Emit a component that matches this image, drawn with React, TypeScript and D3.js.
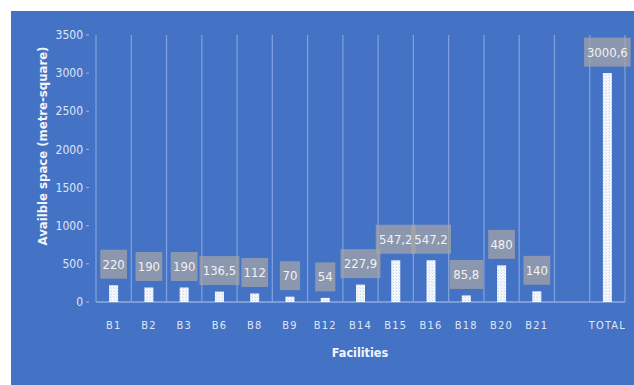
import React from "react";
import * as d3 from "d3";

const categories = ["B1", "B2", "B3", "B6", "B8", "B9", "B12", "B14", "B15", "B16", "B18", "B20", "B21", "", "TOTAL"];
const values: (number | null)[] = [220, 190, 190, 136.5, 112, 70, 54, 227.9, 547.2, 547.2, 85.8, 480, 140, null, 3000.6];
const yTicks = [0, 500, 1000, 1500, 2000, 2500, 3000, 3500];

const W = 634;
const H = 385;
const plot = { left: 96, right: 625, top: 35, bottom: 302 };
const font = "'DejaVu Sans Condensed', 'Liberation Sans Narrow', 'Liberation Sans', Arial, sans-serif";

const fmt = (v: number) => String(v).replace(".", ",");

export default function App() {
  const x = d3
    .scaleBand<string>()
    .domain(categories.map((c, i) => `${i}`))
    .range([plot.left, plot.right])
    .paddingInner(0)
    .paddingOuter(0);
  const y = d3.scaleLinear().domain([0, 3500]).range([plot.bottom, plot.top]);
  const barW = 9;

  const bands = categories.map((c, i) => ({ c, i, x0: x(`${i}`)!, bw: x.bandwidth() }));

  return (
    <svg
      width={W}
      height={H}
      style={{ position: "absolute", left: 0, top: 0, display: "block", fontStretch: "condensed" }}
      fontFamily={font}
    >
      <defs>
        <pattern id="dots" width="3" height="3" patternUnits="userSpaceOnUse">
          <rect width="3" height="3" fill="#f4f7fc" />
          <rect x="0" y="0" width="1" height="1" fill="#c9d6ef" />
          <rect x="2" y="2" width="1" height="1" fill="#dbe4f5" />
        </pattern>
      </defs>
      <rect x={0} y={0} width={W} height={H} fill="#ffffff" />
      <rect x={11} y={11} width={W - 11} height={H - 11} fill="#4472c4" />

      {/* vertical gridlines at band boundaries */}
      {d3.range(categories.length + 1).map((i) => {
        const gx = plot.left + i * x.bandwidth();
        return (
          <line key={i} x1={gx} x2={gx} y1={plot.top} y2={plot.bottom} stroke="#7ea0dc" strokeWidth={1.3} />
        );
      })}

      {/* baseline */}
      <line x1={plot.left} x2={plot.right} y1={plot.bottom} y2={plot.bottom} stroke="#8eacdf" strokeWidth={1.3} />

      {/* y axis labels */}
      {yTicks.map((t) => (
        <g key={t}>
          <text
            x={83}
            y={y(t)}
            dy="0.35em"
            textAnchor="end"
            fontSize={12}
            fill="#dfe7f6"
          >
            {t}
          </text>
          <line x1={86} x2={89} y1={y(t)} y2={y(t)} stroke="#9fb8e4" strokeWidth={1} />
        </g>
      ))}

      {/* bars */}
      {bands.map(({ i, x0, bw }) => {
        const v = values[i];
        if (v == null) return null;
        const cx = x0 + bw / 2;
        return (
          <rect key={i} x={cx - barW / 2} y={y(v)} width={barW} height={plot.bottom - y(v)} fill="url(#dots)" />
        );
      })}

      {/* value labels */}
      {bands.map(({ i, x0, bw }) => {
        const v = values[i];
        if (v == null) return null;
        const cx = x0 + bw / 2;
        const label = fmt(v);
        const tw = label.length * 6.6 + 7;
        const bh = 29;
        const by = y(v) - 6.5 - bh;
        return (
          <g key={i}>
            <rect x={cx - tw / 2} y={by} width={tw} height={bh} fill="#a5a5a5" fillOpacity={0.72} />
            <text x={cx} y={by + bh / 2} dy="0.35em" textAnchor="middle" fontSize={13} fill="#f2f2f2">
              {label}
            </text>
          </g>
        );
      })}

      {/* category labels */}
      {bands.map(({ c, i, x0, bw }) => (
        <text
          key={i}
          x={x0 + bw / 2}
          y={325}
          dy="0.35em"
          textAnchor="middle"
          fontSize={11}
          letterSpacing={1.2}
          fill="#dfe7f6"
        >
          {c}
        </text>
      ))}

      <text x={360} y={353} dy="0.35em" textAnchor="middle" fontSize={12.5} fontWeight="bold" fill="#f2f5fb">
        Facilities
      </text>
      <text
        transform={`translate(42, 146) rotate(-90)`}
        dy="0.35em"
        textAnchor="middle"
        fontSize={13}
        fontWeight="bold"
        fill="#f2f5fb"
      >
        Availble space (metre-square)
      </text>
    </svg>
  );
}
